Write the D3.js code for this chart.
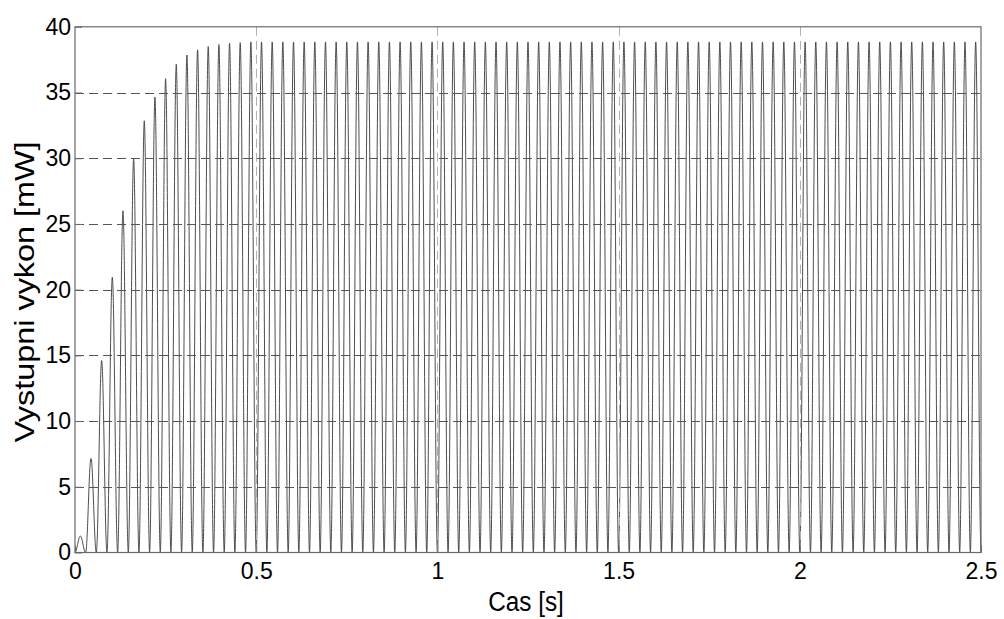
<!DOCTYPE html>
<html>
<head>
<meta charset="utf-8">
<script src="https://cdn.jsdelivr.net/npm/d3@7"></script>
<style>
  html, body { margin: 0; padding: 0; background: #fff; }
  svg { display: block; }
  text { font-family: "Liberation Sans", Arial, Helvetica, sans-serif; fill: #000; }
</style>
</head>
<body>
<svg id="chart" width="1004" height="619"></svg>
<script>
// ---- data ----
const xTicks = [0, 0.5, 1, 1.5, 2, 2.5];
const xTickLabels = ["0", "0.5", "1", "1.5", "2", "2.5"];
const yTicks = [0, 5, 10, 15, 20, 25, 30, 35, 40];
const yTickLabels = ["0", "5", "10", "15", "20", "25", "30", "35", "40"];
const xLabel = "Cas [s]";
const yLabel = "Vystupni vykon [mW]";
const period = 1 / 34;           // lobe duration in seconds (85 lobes in 2.5 s)
// peak power of each lobe [mW]
const lobePeaks = [
  1.25, 7.15, 14.6, 20.95, 26.0, 29.95, 32.85, 34.65, 36.05, 37.15,
  37.85, 38.25, 38.5, 38.65, 38.75, 38.8, 38.85, 38.85, 38.85, 38.85,
  38.85, 38.85, 38.85, 38.85, 38.85, 38.85, 38.85, 38.85, 38.85, 38.85,
  38.85, 38.85, 38.85, 38.85, 38.85, 38.85, 38.85, 38.85, 38.85, 38.85,
  38.85, 38.85, 38.85, 38.85, 38.85, 38.85, 38.85, 38.85, 38.85, 38.85,
  38.85, 38.85, 38.85, 38.85, 38.85, 38.85, 38.85, 38.85, 38.85, 38.85,
  38.85, 38.85, 38.85, 38.85, 38.85, 38.85, 38.85, 38.85, 38.85, 38.85,
  38.85, 38.85, 38.85, 38.85, 38.85, 38.85, 38.85, 38.85, 38.85, 38.85,
  38.85, 38.85, 38.85, 38.85, 38.85
];
// normalised shape of one lobe (fraction of its peak), sampled over one period
const lobeShape = [0, 0.095, 0.345, 0.655, 0.905, 1, 0.905, 0.655, 0.345, 0.095];

// ---- build points ----
const points = [];
lobePeaks.forEach((pk, k) => {
  lobeShape.forEach((f, j) => {
    points.push([(k + j / lobeShape.length) * period, pk * f]);
  });
});
points.push([lobePeaks.length * period, 0]);

// ---- layout ----
const svg = d3.select("#chart");
const mLeft = 75, mRight = 981, mTop = 26.8, mBottom = 552.5;
const x = d3.scaleLinear().domain([0, 2.5]).range([mLeft, mRight]);
const y = d3.scaleLinear().domain([0, 40]).range([mBottom, mTop]);

svg.append("rect").attr("width", 1004).attr("height", 619).attr("fill", "#fff");

// vertical grid
const grid = svg.append("g");
grid.selectAll("line").data(xTicks.slice(1, -1)).enter().append("line")
  .attr("x1", d => Math.round(x(d)) + 0.5).attr("x2", d => Math.round(x(d)) + 0.5)
  .attr("y1", mTop).attr("y2", mBottom)
  .attr("stroke", "#b0b0b0").attr("stroke-width", 1).attr("stroke-dasharray", "9,5");

// curve
const line = d3.line().x(d => x(d[0])).y(d => y(d[1])).curve(d3.curveMonotoneX);
svg.append("path").datum(points)
  .attr("d", line).attr("fill", "none")
  .attr("stroke", "#3a3a3a").attr("stroke-width", 0.9);

grid.raise();
// horizontal grid
svg.append("g").selectAll("line").data(yTicks.slice(1, -1)).enter().append("line")
  .attr("x1", mLeft).attr("x2", mRight)
  .attr("y1", d => Math.round(y(d)) + 0.5).attr("y2", d => Math.round(y(d)) + 0.5)
  .attr("stroke", "#555").attr("stroke-width", 1).attr("stroke-dasharray", "9,5");

// frame
svg.append("rect").attr("x", mLeft).attr("y", mTop)
  .attr("width", mRight - mLeft).attr("height", mBottom - mTop)
  .attr("fill", "none").attr("stroke", "#6a6a6a").attr("stroke-width", 1.2);

// axes (ticks inside, MATLAB style)
const xAxis = d3.axisBottom(x).tickValues(xTicks).tickFormat((d, i) => xTickLabels[i])
  .tickSizeInner(-7).tickSizeOuter(0).tickPadding(10);
const gx = svg.append("g").attr("transform", `translate(0,${mBottom})`).call(xAxis);
gx.select(".domain").remove();
gx.selectAll(".tick line").attr("stroke", "#6a6a6a");
gx.selectAll("text").attr("font-size", 23).attr("dy", "0.71em");

const yAxis = d3.axisLeft(y).tickValues(yTicks).tickFormat((d, i) => yTickLabels[i])
  .tickSizeInner(-7).tickSizeOuter(0).tickPadding(4);
const gy = svg.append("g").attr("transform", `translate(${mLeft},0)`).call(yAxis);
gy.select(".domain").remove();
gy.selectAll(".tick line").attr("stroke", "#6a6a6a");
gy.selectAll("text").attr("font-size", 23);

// axis titles
svg.append("text")
  .attr("transform", `translate(526,611) scale(0.9,1)`)
  .attr("text-anchor", "middle").attr("font-size", 27).text(xLabel);
svg.append("text")
  .attr("transform", `translate(34,292) rotate(-90) scale(1.2,1)`)
  .attr("text-anchor", "middle").attr("font-size", 27).text(yLabel);
</script>
</body>
</html>
